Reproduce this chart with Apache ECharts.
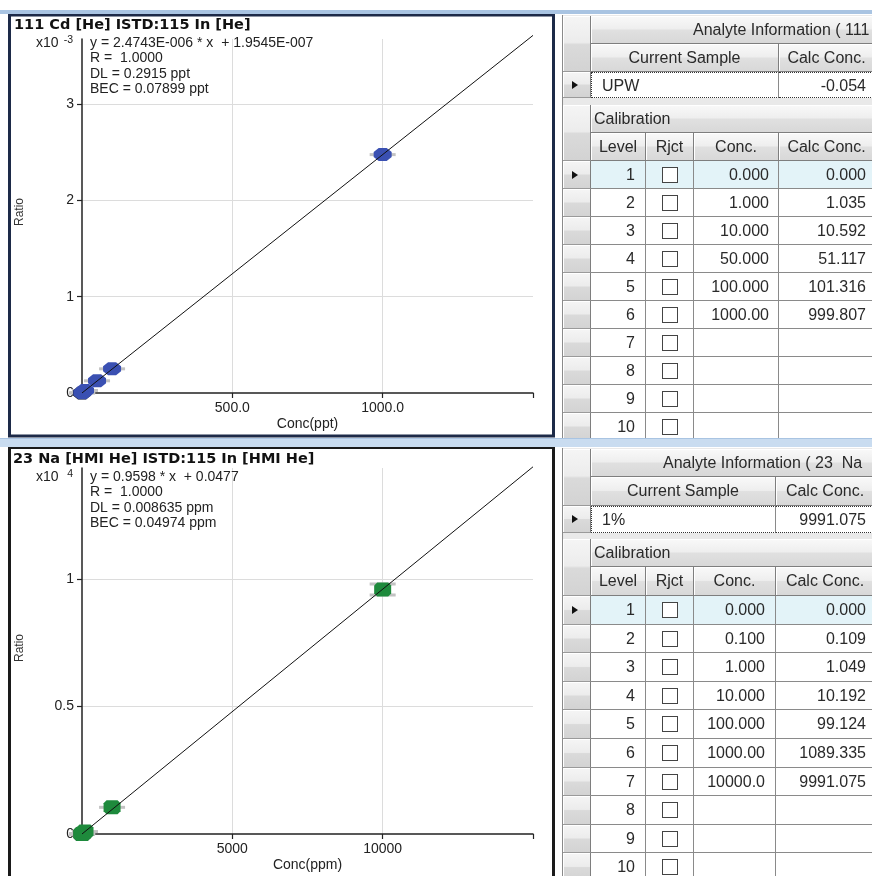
<!DOCTYPE html>
<html><head><meta charset="utf-8">
<script src="https://cdn.jsdelivr.net/npm/echarts@6/dist/echarts.min.js"></script>
<style>
html,body{margin:0;padding:0;background:#fff;width:872px;height:876px;overflow:hidden;}
#chart{position:absolute;left:0;top:0;width:872px;height:876px;z-index:1;}
.c{position:absolute;box-sizing:border-box;overflow:hidden;white-space:pre;font:16px "Liberation Sans",Arial,sans-serif;color:#2a2a2a;z-index:3;}
.hd{background:linear-gradient(#f9f9f9,#eeeeee 48%,#e0e0e0 52%,#d8d8d8);border-right:1px solid #7e7e7e;border-bottom:1px solid #7e7e7e;text-align:center;box-shadow:inset 1px 1px 0 #fff;}
.rh{background:linear-gradient(#f5f5f5,#ececec 48%,#dadada 52%,#d3d3d3);border-right:1px solid #7e7e7e;border-bottom:1px solid #9a9a9a;box-shadow:inset 1px 1px 0 #fff;}
.dc{background:#fff;border-right:1px solid #8a8a8a;border-bottom:1px solid #8a8a8a;text-align:right;}
.cb{position:absolute;width:16px;height:16px;box-sizing:border-box;border:1px solid #444;background:#fff;}
.tri{position:absolute;width:0;height:0;border-left:6px solid #111;border-top:4px solid transparent;border-bottom:4px solid transparent;}
.band{position:absolute;left:0;width:872px;z-index:5;}
</style></head>
<body>
<div id="chart"></div>
<script>
// ---------- DATA ----------
const cdTitle = '111 Cd [He] ISTD:115 In [He]';
const cdEquation = ['y = 2.4743E-006 * x  + 1.9545E-007', 'R =  1.0000', 'DL = 0.2915 ppt', 'BEC = 0.07899 ppt'];
const cdConc = [0, 1, 10, 50, 100, 1000];                       // ppt
const cdRatio = [0.0002, 0.0028, 0.0264, 0.1267, 0.2509, 2.4740]; // x10^-3
const cdCalc = [0.000, 1.035, 10.592, 51.117, 101.316, 999.807];
const cdFit = [[0, 0.0002], [1500, 3.7116]];
const cdXTicks = [500, 1000];
const cdXTickLabels = ['500.0', '1000.0'];
const cdYTicks = [0, 1, 2, 3];
const cdYTickLabels = ['0', '1', '2', '3'];
const cdSample = ['UPW', '-0.054'];
const cdAnalyte = 'Analyte Information ( 111';

const naTitle = '23 Na [HMI He] ISTD:115 In [HMI He]';
const naEquation = ['y = 0.9598 * x  + 0.0477', 'R =  1.0000', 'DL = 0.008635 ppm', 'BEC = 0.04974 ppm'];
const naConc = [0, 0.1, 1, 10, 100, 1000, 10000];               // ppm
const naRatio = [0.0000048, 0.0000153, 0.0001055, 0.000983, 0.009519, 0.104559, 0.958948]; // x10^4
const naCalc = [0.000, 0.109, 1.049, 10.192, 99.124, 1089.335, 9991.075];
const naFit = [[0, 0.0000048], [15000, 1.4397]];
const naXTicks = [5000, 10000];
const naXTickLabels = ['5000', '10000'];
const naYTicks = [0, 0.5, 1];
const naYTickLabels = ['0', '0.5', '1'];
const naSample = ['1%', '9991.075'];
const naAnalyte = 'Analyte Information ( 23  Na  [';

const levels = [1, 2, 3, 4, 5, 6, 7, 8, 9, 10];

// ---------- CHART ----------
const FONT = '"Liberation Sans", Arial, sans-serif';
const octagon = 'path://M5,0L13,0L18,4L18,9L13,13L5,13L0,9L0,4Z';
const roundSq = 'path://M3,0L14,0L17,3L17,11L14,14L3,14L0,11L0,3Z';
const capsPath = 'path://M0,0H26V3H0Z M0,11H26V14H0Z M12,3H14V11H12Z';

function axisPair(gi, xmax, xint, xTicks, xLabels, ymax, yTicks, yLabels, xname) {
  const x = {
    gridIndex: gi, type: 'value', min: 0, max: xmax, interval: xint,
    name: xname, nameLocation: 'middle', nameGap: 24,
    nameTextStyle: {fontFamily: FONT, fontSize: 14, color: '#222'},
    axisLine: {onZero: false, lineStyle: {color: '#222', width: 1.5}},
    axisTick: {show: true, length: 5, lineStyle: {color: '#222', width: 1.2}},
    axisLabel: {margin: 8, fontFamily: FONT, fontSize: 14, color: '#222',
      formatter: v => { const k = xTicks.indexOf(v); return k >= 0 ? xLabels[k] : ''; }},
    splitLine: {show: true, showMinLine: false, showMaxLine: false, lineStyle: {color: '#dcdcdc', width: 1}}
  };
  const y = {
    gridIndex: gi, type: 'value', min: 0, max: ymax,
    axisLine: {onZero: false, lineStyle: {color: '#222', width: 1.5}},
    axisTick: {show: true, length: 5, customValues: yTicks, lineStyle: {color: '#222', width: 1.2}},
    axisLabel: {margin: 8, fontFamily: FONT, fontSize: 14, color: '#222', customValues: yTicks,
      formatter: v => { const k = yTicks.indexOf(v); return k >= 0 ? yLabels[k] : ''; }},
    splitLine: {show: true, showMinLine: false, lineStyle: {color: '#dcdcdc', width: 1}}
  };
  return [x, y];
}

const [cdX, cdY] = axisPair(0, 1500, 500, cdXTicks, cdXTickLabels, 3.674, cdYTicks, cdYTickLabels, 'Conc(ppt)');
const [naX, naY] = axisPair(1, 15000, 5000, naXTicks, naXTickLabels, 1.435, naYTicks, naYTickLabels, 'Conc(ppm)');

function pts(conc, ratio, from) { const out = []; for (let i = from; i < conc.length; i++) out.push([conc[i], ratio[i]]); return out; }

function seriesFor(gi, conc, ratio, fit, color, marker, msize, errSym) {
  return [
    {type: 'scatter', xAxisIndex: gi, yAxisIndex: gi, data: pts(conc, ratio, 0), symbol: errSym,
      symbolSize: v => (errSym === 'rect' ? [26, 3] : (v[0] >= 5000 ? [26, 14] : [26, 3])), itemStyle: {color: '#c2c2c2', opacity: 1}, z: 2, silent: true, clip: true},
    {type: 'scatter', xAxisIndex: gi, yAxisIndex: gi, data: pts(conc, ratio, 0).slice(0, 1), symbol: marker, symbolSize: msize,
      itemStyle: {color: '#111', opacity: 1}, z: 3, silent: true, clip: true},
    {type: 'scatter', xAxisIndex: gi, yAxisIndex: gi, data: pts(conc, ratio, 1), symbol: marker, symbolSize: msize,
      itemStyle: {color: color, opacity: 1}, z: 4, silent: true, clip: true},
    {type: 'line', xAxisIndex: gi, yAxisIndex: gi, data: fit, symbol: 'none', clip: false,
      lineStyle: {color: '#111', width: 1}, z: 5, silent: true}
  ];
}

const series = [].concat(
  seriesFor(0, cdConc, cdRatio, cdFit, '#3a50b2', octagon, [18, 13], 'rect'),
  seriesFor(1, naConc, naRatio, naFit, '#1e8a3c', roundSq, [17, 14], capsPath)
);
// Na error bars: caps for the large level, plain band for the others
series[4].symbol = v => (v[0] >= 5000 ? capsPath : 'rect');

function eqText(x, y, lines) {
  return lines.map((t, i) => ({type: 'text', x: x, y: y + i * 15.4, z: 10,
    style: {text: t, fontFamily: FONT, fontSize: 14, fill: '#222', align: 'left', verticalAlign: 'middle'}}));
}

const graphic = [
  {type: 'rect', shape: {x: 9.5, y: 15, width: 544, height: 421}, style: {fill: 'none', stroke: '#1d2a48', lineWidth: 3}, z: 20},
  {type: 'rect', shape: {x: 9.5, y: 447.5, width: 544, height: 440}, style: {fill: 'none', stroke: '#1a1a1a', lineWidth: 3}, z: 20},
  {type: 'text', x: 14, y: 25, z: 10, style: {text: cdTitle, fontFamily: '"DejaVu Sans", sans-serif', fontWeight: 'bold', fontSize: 14.5, fill: '#111', verticalAlign: 'middle'}},
  {type: 'text', x: 13, y: 459, z: 10, style: {text: naTitle, fontFamily: '"DejaVu Sans", sans-serif', fontWeight: 'bold', fontSize: 14.5, fill: '#111', verticalAlign: 'middle'}},
  {type: 'text', x: 58.5, y: 43, z: 10, style: {text: 'x10', fontFamily: FONT, fontSize: 14, fill: '#222', align: 'right', verticalAlign: 'middle'}},
  {type: 'text', x: 73, y: 40.5, z: 10, style: {text: '-3', fontFamily: FONT, fontSize: 10.5, fill: '#222', align: 'right', verticalAlign: 'middle'}},
  {type: 'text', x: 58.5, y: 477, z: 10, style: {text: 'x10', fontFamily: FONT, fontSize: 14, fill: '#222', align: 'right', verticalAlign: 'middle'}},
  {type: 'text', x: 73, y: 474.5, z: 10, style: {text: '4', fontFamily: FONT, fontSize: 10.5, fill: '#222', align: 'right', verticalAlign: 'middle'}},
  {type: 'text', x: 20, y: 212, rotation: Math.PI / 2, z: 10, style: {text: 'Ratio', fontFamily: FONT, fontSize: 12, fill: '#333', align: 'center', verticalAlign: 'middle'}},
  {type: 'text', x: 20, y: 648, rotation: Math.PI / 2, z: 10, style: {text: 'Ratio', fontFamily: FONT, fontSize: 12, fill: '#333', align: 'center', verticalAlign: 'middle'}}
].concat(eqText(90, 43, cdEquation), eqText(90, 477, naEquation));

const chart = echarts.init(document.getElementById('chart'), null, {renderer: 'canvas'});
chart.setOption({
  animation: false,
  backgroundColor: '#fff',
  grid: [{left: 82, top: 39, width: 451, height: 354}, {left: 82, top: 468, width: 451, height: 366}],
  xAxis: [cdX, naX],
  yAxis: [cdY, naY],
  series: series,
  graphic: graphic
});

// ---------- TABLES (HTML) ----------
function box(x, y, w, h, cls, text, st) {
  const d = document.createElement('div');
  d.className = 'c ' + (cls || '');
  Object.assign(d.style, {left: x + 'px', top: y + 'px', width: w + 'px', height: h + 'px', lineHeight: (h - 1) + 'px'});
  if (st) Object.assign(d.style, st);
  if (text != null) d.textContent = text;
  document.body.appendChild(d);
  return d;
}
function tri(parent, h) {
  const t = document.createElement('div'); t.className = 'tri';
  t.style.left = '9px'; t.style.top = (h / 2 - 4.5) + 'px'; parent.appendChild(t);
}
function fmtConc(v) { const ip = Math.floor(Math.abs(v)).toString().length; return v.toFixed(Math.min(3, 6 - ip)); }

function buildTable(g, analyte, sample, conc, calc) {
  const X = g.cols; // [rowhdr, level, rjct, conc, calc, end]
  box(562, g.ana[0] - 1, 312, g.bottom - g.ana[0] + 1, '', null, {background: '#e9e9e9', borderLeft: '1px solid #8a8a8a', zIndex: 2});
  box(X[0], g.ana[0], X[1] - X[0], g.ana[1] + g.cs[1], 'rh');
  box(X[1], g.ana[0], X[5] - X[1], g.ana[1], 'hd', analyte, {textAlign: 'left', paddingLeft: g.anaPad + 'px'});
  box(X[1], g.cs[0], g.csSplit - X[1], g.cs[1], 'hd', 'Current Sample');
  box(g.csSplit, g.cs[0], X[5] - g.csSplit, g.cs[1], 'hd', 'Calc Conc.');
  const r0 = box(X[0], g.smp[0], X[1] - X[0], g.smp[1], 'rh'); tri(r0, g.smp[1]);
  box(X[1], g.smp[0], g.csSplit - X[1], g.smp[1], 'dc', sample[0], {textAlign: 'left', paddingLeft: '10px', borderTop: '1px dotted #333', borderBottom: '1px dotted #333', borderLeft: '1px dotted #333'});
  box(g.csSplit, g.smp[0], X[5] - g.csSplit, g.smp[1], 'dc', sample[1], {paddingRight: '8px', borderTop: '1px dotted #333', borderBottom: '1px dotted #333'});
  box(X[0], g.cal[0], X[1] - X[0], g.cal[1] + g.lvl[1], 'rh');
  box(X[1], g.cal[0], X[5] - X[1], g.cal[1], 'hd', 'Calibration', {textAlign: 'left', paddingLeft: '3px'});
  const hdrs = ['Level', 'Rjct', 'Conc.', 'Calc Conc.'];
  for (let k = 0; k < 4; k++) box(X[k + 1], g.lvl[0], X[k + 2] - X[k + 1], g.lvl[1], 'hd', hdrs[k]);
  levels.forEach((lv, i) => {
    const y = Math.round(g.rowTop + i * g.pitch);
    const h = Math.round(g.rowTop + (i + 1) * g.pitch) - y;
    const bg = i === 0 ? '#e3f3f8' : '#fff';
    const rh = box(X[0], y, X[1] - X[0], h, 'rh'); if (i === 0) tri(rh, h);
    box(X[1], y, X[2] - X[1], h, 'dc', String(lv), {paddingRight: '10px', background: bg});
    const rj = box(X[2], y, X[3] - X[2], h, 'dc', null, {background: bg});
    const cb = document.createElement('div'); cb.className = 'cb';
    cb.style.left = ((X[3] - X[2]) / 2 - 8.5) + 'px'; cb.style.top = (h / 2 - 8.5) + 'px'; rj.appendChild(cb);
    box(X[3], y, X[4] - X[3], h, 'dc', i < conc.length ? fmtConc(conc[i]) : '', {paddingRight: g.concPad + 'px', background: bg});
    box(X[4], y, X[5] - X[4], h, 'dc', i < calc.length ? calc[i].toFixed(3) : '', {paddingRight: '8px', background: bg});
  });
}

buildTable({cols: [563, 591, 646, 694, 779, 875], csSplit: 779, ana: [16, 28], cs: [44, 28], smp: [72, 26], cal: [105, 28], lvl: [133, 28],
  rowTop: 161, pitch: 28, bottom: 442, anaPad: 102, concPad: 9}, cdAnalyte, cdSample, cdConc, cdCalc);
buildTable({cols: [563, 591, 646, 694, 776, 875], csSplit: 776, ana: [449, 28], cs: [477, 29], smp: [506, 27], cal: [539, 28], lvl: [567, 29],
  rowTop: 596, pitch: 28.6, bottom: 880, anaPad: 72, concPad: 10}, naAnalyte, naSample, naConc, naCalc);

// window splitter bands
const b1 = document.createElement('div'); b1.className = 'band'; Object.assign(b1.style, {top: '10px', height: '4px', background: '#a9c4e2'}); document.body.appendChild(b1);
const b2 = document.createElement('div'); b2.className = 'band'; Object.assign(b2.style, {top: '438px', height: '8px', background: '#c9dcf0', borderTop: '1px solid #a9c4e2'}); document.body.appendChild(b2);
</script>
</body></html>
